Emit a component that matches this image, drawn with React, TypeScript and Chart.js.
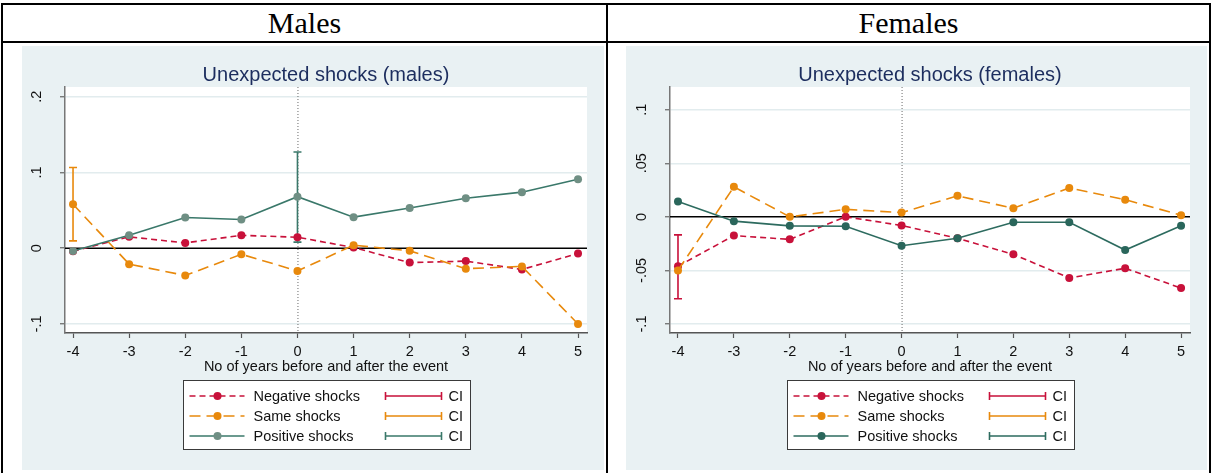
import React, { useEffect, useRef } from "react";
import { Chart, registerables } from "chart.js";

Chart.register(...registerables);

// ---------- data ----------
const years = [-4, -3, -2, -1, 0, 1, 2, 3, 4, 5];

const maleNegative = [-0.004, 0.015, 0.007, 0.017, 0.0145, 0.001, -0.019, -0.017, -0.028, -0.007];
const maleSame = [0.058, -0.021, -0.036, -0.008, -0.03, 0.004, -0.0035, -0.027, -0.024, -0.1];
const malePositive = [-0.0036, 0.017, 0.0405, 0.038, 0.068, 0.041, 0.053, 0.066, 0.074, 0.091];
const maleCIYears = [-4, 0];
const maleCISeries = ["same", "positive"];
const maleCILow = [0.0097, 0.008];
const maleCIHigh = [0.1065, 0.127];

const femaleNegative = [-0.046, -0.0175, -0.021, 0, -0.008, -0.02, -0.035, -0.057, -0.048, -0.0665];
const femaleSame = [-0.05, 0.028, 0, 0.007, 0.004, 0.0196, 0.008, 0.027, 0.016, 0.0016];
const femalePositive = [0.0144, -0.004, -0.0084, -0.0087, -0.027, -0.02, -0.005, -0.005, -0.031, -0.0084];
const femaleCIYears = [-4];
const femaleCISeries = ["negative"];
const femaleCILow = [-0.0765];
const femaleCIHigh = [-0.0168];

const maleYTicks = [-0.1, 0, 0.1, 0.2];
const maleYLabels = ["-.1", "0", ".1", ".2"];
const femaleYTicks = [-0.1, -0.05, 0, 0.05, 0.1];
const femaleYLabels = ["-.1", "-.05", "0", ".05", ".1"];

const seriesNames = ["Negative shocks", "Same shocks", "Positive shocks"];
const headers = ["Males", "Females"];
const titles = ["Unexpected shocks (males)", "Unexpected shocks (females)"];
const xTitle = "No of years before and after the event";

// ---------- style ----------
const SANS = "'Liberation Sans', Arial, sans-serif";
const BG = "#e9f1f3";
const RED = "#c8113a";
const ORANGE = "#e8890c";

type PanelCfg = {
  title: string;
  negative: number[];
  same: number[];
  positive: number[];
  ciYears: number[];
  ciSeries: string[];
  ciLow: number[];
  ciHigh: number[];
  yTicks: number[];
  yLabels: string[];
  yMin: number;
  yMax: number;
  greenLine: string;
  greenPoint: string;
  axisWidth: number;
};

function Panel({ cfg, left, width }: { cfg: PanelCfg; left: number; width: number }) {
  const ref = useRef<HTMLCanvasElement>(null);
  useEffect(() => {
    const canvas = ref.current!;
    const colorOf = (s: string) => (s === "negative" ? RED : s === "same" ? ORANGE : cfg.greenLine);

    const bgPlugin = {
      id: "bg",
      beforeDraw(chart: any) {
        const { ctx, chartArea: a } = chart;
        ctx.save();
        ctx.fillStyle = BG;
        ctx.fillRect(0, 0, chart.width, chart.height);
        ctx.fillStyle = "#ffffff";
        ctx.fillRect(a.left, a.top, a.right - a.left, a.bottom - a.top);
        ctx.restore();
      },
    };

    const overlayPlugin = {
      id: "overlay",
      beforeDatasetsDraw(chart: any) {
        const { ctx, chartArea: a } = chart;
        const xs = chart.scales.x;
        const ys = chart.scales.y;
        ctx.save();
        // dotted vertical line at event
        const x0 = xs.getPixelForValue(0);
        ctx.strokeStyle = "#6a6a6a";
        ctx.lineWidth = 1;
        ctx.setLineDash([1, 2]);
        ctx.beginPath();
        ctx.moveTo(x0 + 0.5, a.top);
        ctx.lineTo(x0 + 0.5, a.bottom);
        ctx.stroke();
        ctx.setLineDash([]);
        // zero line
        const y0 = ys.getPixelForValue(0);
        ctx.strokeStyle = "#000000";
        ctx.lineWidth = 1.5;
        ctx.beginPath();
        ctx.moveTo(a.left, y0);
        ctx.lineTo(a.right, y0);
        ctx.stroke();
        // confidence intervals
        cfg.ciYears.forEach((yr, i) => {
          const px = xs.getPixelForValue(yr);
          const lo = ys.getPixelForValue(cfg.ciLow[i]);
          const hi = ys.getPixelForValue(cfg.ciHigh[i]);
          ctx.strokeStyle = colorOf(cfg.ciSeries[i]);
          ctx.lineWidth = 1.6;
          ctx.beginPath();
          ctx.moveTo(px, lo);
          ctx.lineTo(px, hi);
          ctx.moveTo(px - 4, lo);
          ctx.lineTo(px + 4, lo);
          ctx.moveTo(px - 4, hi);
          ctx.lineTo(px + 4, hi);
          ctx.stroke();
        });
        ctx.restore();
      },
      afterDraw(chart: any) {
        const { ctx, chartArea: a } = chart;
        const ys = chart.scales.y;
        ctx.save();
        // rotated y tick labels
        ctx.fillStyle = "#111111";
        ctx.font = `14.5px ${SANS}`;
        ctx.textAlign = "center";
        ctx.textBaseline = "middle";
        cfg.yTicks.forEach((v, i) => {
          const py = ys.getPixelForValue(v);
          ctx.save();
          ctx.translate(a.left - 28, py);
          ctx.rotate(-Math.PI / 2);
          ctx.fillText(cfg.yLabels[i], 0, 0);
          ctx.restore();
        });
        // legend
        const boxW = 287;
        const boxH = 69;
        const cx = (a.left + a.right) / 2;
        const bx = Math.round(cx - boxW / 2) + 0.5;
        const by = Math.round(a.bottom + 47) + 0.5;
        ctx.fillStyle = "#ffffff";
        ctx.fillRect(bx, by, boxW, boxH);
        ctx.strokeStyle = "#3a3a3a";
        ctx.lineWidth = 1;
        ctx.strokeRect(bx, by, boxW, boxH);
        const dashes = [[6, 4], [11, 6], []];
        const lineCols = [RED, ORANGE, cfg.greenLine];
        const ptCols = [RED, ORANGE, cfg.greenPoint];
        seriesNames.forEach((name, i) => {
          const ry = by + 15.5 + i * 20;
          ctx.strokeStyle = lineCols[i];
          ctx.lineWidth = 1.6;
          ctx.setLineDash(dashes[i]);
          ctx.beginPath();
          ctx.moveTo(bx + 6, ry);
          ctx.lineTo(bx + 61, ry);
          ctx.stroke();
          ctx.setLineDash([]);
          ctx.fillStyle = ptCols[i];
          ctx.beginPath();
          ctx.arc(bx + 34, ry, 4, 0, Math.PI * 2);
          ctx.fill();
          ctx.fillStyle = "#111111";
          ctx.textAlign = "left";
          ctx.textBaseline = "middle";
          ctx.font = `14.5px ${SANS}`;
          ctx.fillText(name, bx + 70, ry + 1);
          // CI sample
          ctx.strokeStyle = lineCols[i];
          ctx.lineWidth = 1.6;
          ctx.beginPath();
          ctx.moveTo(bx + 202, ry);
          ctx.lineTo(bx + 258, ry);
          ctx.moveTo(bx + 202, ry - 4);
          ctx.lineTo(bx + 202, ry + 4);
          ctx.moveTo(bx + 258, ry - 4);
          ctx.lineTo(bx + 258, ry + 4);
          ctx.stroke();
          ctx.fillStyle = "#111111";
          ctx.fillText("CI", bx + 265, ry + 1);
        });
        ctx.restore();
      },
    };

    const mk = (vals: number[]) => years.map((x, i) => ({ x, y: vals[i] }));

    const chart = new Chart(canvas, {
      type: "line",
      data: {
        datasets: [
          {
            label: seriesNames[0],
            data: mk(cfg.negative),
            borderColor: RED,
            backgroundColor: RED,
            borderDash: [6, 4],
            borderWidth: 1.6,
            pointRadius: 4,
            pointBorderWidth: 0,
            pointBackgroundColor: RED,
            order: 3,
          },
          {
            label: seriesNames[1],
            data: mk(cfg.same),
            borderColor: ORANGE,
            backgroundColor: ORANGE,
            borderDash: [11, 6],
            borderWidth: 1.6,
            pointRadius: 4,
            pointBorderWidth: 0,
            pointBackgroundColor: ORANGE,
            order: 2,
          },
          {
            label: seriesNames[2],
            data: mk(cfg.positive),
            borderColor: cfg.greenLine,
            backgroundColor: cfg.greenPoint,
            borderWidth: 1.6,
            pointRadius: 4,
            pointBorderWidth: 0,
            pointBackgroundColor: cfg.greenPoint,
            order: 1,
          },
        ],
      },
      options: {
        animation: false,
        responsive: false,
        devicePixelRatio: 1,
        layout: { padding: { left: 0, right: 17, top: 0, bottom: 92 } },
        plugins: {
          legend: { display: false },
          tooltip: { enabled: false },
          title: {
            display: true,
            text: cfg.title,
            fullSize: false,
            color: "#1c2d5e",
            font: { family: SANS, size: 20, weight: "normal", lineHeight: 1.2 },
            padding: { top: 17, bottom: 0 },
          },
        },
        scales: {
          x: {
            type: "linear",
            min: -4.143,
            max: 5.16,
            afterBuildTicks: (s: any) => {
              s.ticks = years.map((v) => ({ value: v }));
            },
            afterFit: (s: any) => {
              s.height = 45;
              s.paddingLeft = 0;
              s.paddingRight = 0;
            },
            ticks: {
              color: "#111111",
              font: { family: SANS, size: 14.5 },
              padding: 5,
              maxRotation: 0,
              autoSkip: false,
              callback: (v: any) => String(v),
            },
            grid: {
              drawOnChartArea: false,
              drawTicks: true,
              tickLength: 5,
              tickColor: "#555555",
              tickWidth: 1.2,
            },
            border: { display: true, color: "#555555", width: 1.5 },
            title: {
              display: true,
              text: xTitle,
              color: "#111111",
              font: { family: SANS, size: 14.5 },
              padding: { top: 0, bottom: 2 },
            },
          },
          y: {
            type: "linear",
            min: cfg.yMin,
            max: cfg.yMax,
            afterBuildTicks: (s: any) => {
              s.ticks = cfg.yTicks.map((v) => ({ value: v }));
            },
            afterFit: (s: any) => {
              s.width = cfg.axisWidth;
              s.paddingTop = 0;
              s.paddingBottom = 0;
            },
            ticks: { display: false },
            grid: {
              color: (c: any) => (c.tick && c.tick.value === 0 ? "rgba(0,0,0,0)" : "#e2ecee"),
              lineWidth: 1.5,
              drawTicks: true,
              tickLength: 5,
              tickColor: "#666666",
              tickWidth: 1.2,
            },
            border: { display: true, color: "#777777", width: 1.5 },
          },
        },
      },
      plugins: [bgPlugin, overlayPlugin],
    } as any);
    return () => chart.destroy();
  }, [cfg]);
  return (
    <canvas
      ref={ref}
      width={width}
      height={424}
      style={{ position: "absolute", left, top: 46, width, height: 424 }}
    />
  );
}

const maleCfg: PanelCfg = {
  title: titles[0],
  negative: maleNegative,
  same: maleSame,
  positive: malePositive,
  ciYears: maleCIYears,
  ciSeries: maleCISeries,
  ciLow: maleCILow,
  ciHigh: maleCIHigh,
  yTicks: maleYTicks,
  yLabels: maleYLabels,
  yMin: -0.1119,
  yMax: 0.2128,
  greenLine: "#3a786a",
  greenPoint: "#6f8f84",
  axisWidth: 43,
};

const femaleCfg: PanelCfg = {
  title: titles[1],
  negative: femaleNegative,
  same: femaleSame,
  positive: femalePositive,
  ciYears: femaleCIYears,
  ciSeries: femaleCISeries,
  ciLow: femaleCILow,
  ciHigh: femaleCIHigh,
  yTicks: femaleYTicks,
  yLabels: femaleYLabels,
  yMin: -0.1084,
  yMax: 0.1212,
  greenLine: "#2d6b5f",
  greenPoint: "#2a665b",
  axisWidth: 44,
};

const line = (s: React.CSSProperties) => (
  <div style={{ position: "absolute", background: "#000", ...s }} />
);

export default function App() {
  return (
    <div
      style={{
        position: "absolute",
        left: 0,
        top: 0,
        width: 1212,
        height: 473,
        background: "#ffffff",
        overflow: "hidden",
      }}
    >
      {line({ left: 1, top: 3, width: 1210, height: 2 })}
      {line({ left: 1, top: 41, width: 1210, height: 2 })}
      {line({ left: 1, top: 3, width: 2, height: 470 })}
      {line({ left: 606, top: 3, width: 2, height: 470 })}
      {line({ left: 1209, top: 3, width: 2, height: 470 })}
      {headers.map((h, i) => (
        <div
          key={h}
          style={{
            position: "absolute",
            left: i === 0 ? 3 : 608,
            width: i === 0 ? 603 : 601,
            top: 5,
            height: 36,
            lineHeight: "36px",
            textAlign: "center",
            fontFamily: "'Liberation Serif', 'Times New Roman', serif",
            fontSize: 30,
            color: "#000",
          }}
        >
          {h}
        </div>
      ))}
      <Panel cfg={maleCfg} left={22} width={582} />
      <Panel cfg={femaleCfg} left={626} width={581} />
    </div>
  );
}
